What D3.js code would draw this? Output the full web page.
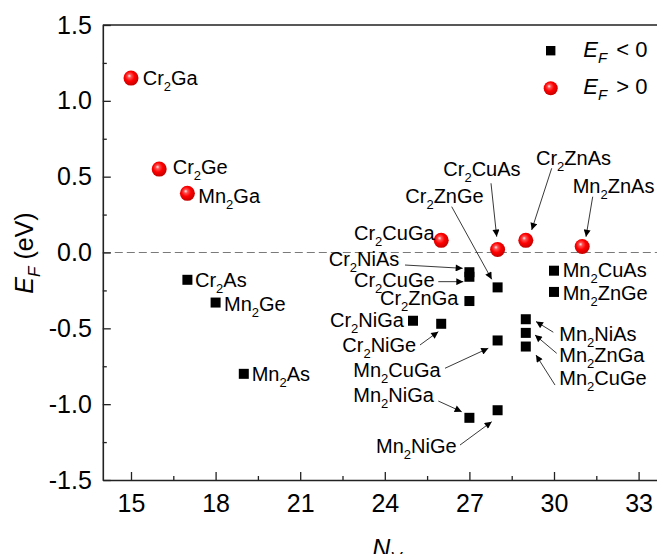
<!DOCTYPE html>
<meta charset="utf-8">
<script src="https://d3js.org/d3.v7.min.js"></script>
<style>
  body { margin: 0; background: #fff; }
  svg { display: block; overflow: hidden; }
  text { font-family: "Liberation Sans", Arial, sans-serif; fill: #000; }
</style>
<div id="my_dataviz"></div>
<script>

// compounds with E_F < 0 (black squares)
const negNames = ["Cr2As", "Mn2Ge", "Mn2As", "Cr2NiGa", "Cr2NiGe", "Cr2NiAs", "Cr2CuGe", "Cr2ZnGa",
                  "Mn2NiGa", "Cr2ZnGe", "Mn2CuGa", "Mn2NiGe", "Mn2NiAs", "Mn2ZnGa", "Mn2CuGe",
                  "Mn2CuAs", "Mn2ZnGe"];
const negNv = [17, 18, 19, 25, 26, 27, 27, 27, 27, 28, 28, 28, 29, 29, 29, 30, 30];
const negEf = [-0.18, -0.33, -0.80, -0.45, -0.47, -0.13, -0.16, -0.32, -1.09, -0.23, -0.58, -1.04,
               -0.44, -0.53, -0.62, -0.12, -0.26];

// compounds with E_F > 0 (red balls)
const posNames = ["Cr2Ga", "Cr2Ge", "Mn2Ga", "Cr2CuGa", "Cr2CuAs", "Cr2ZnAs", "Mn2ZnAs"];
const posNv = [15, 16, 17, 26, 28, 29, 31];
const posEf = [1.15, 0.55, 0.39, 0.08, 0.02, 0.08, 0.04];

// axis ticks
const xTicks = [15, 18, 21, 24, 27, 30, 33];
const xMinorTicks = [16.5, 19.5, 22.5, 25.5, 28.5, 31.5];
const yTicks = [-1.5, -1.0, -0.5, 0.0, 0.5, 1.0, 1.5];
const yTickLabels = ["-1.5", "-1.0", "-0.5", "0.0", "0.5", "1.0", "1.5"];
const yMinorTicks = [-1.25, -0.75, -0.25, 0.25, 0.75, 1.25];

// label placement: offset of the text from its marker, optional arrow (tail dx,dy, head dx,dy)
const labelPos = {
  "Cr2Ga":   {dx: 11.7, dy: 6.9},
  "Cr2Ge":   {dx: 13.5, dy: 4.9},
  "Mn2Ga":   {dx: 10.9, dy: 9.3},
  "Cr2As":   {dx: 7.6, dy: 6.9},
  "Mn2Ge":   {dx: 8.4, dy: 8.2},
  "Mn2As":   {dx: 7.9, dy: 6.9},
  "Mn2CuAs": {dx: 8.7, dy: 6.6},
  "Mn2ZnGe": {dx: 8.7, dy: 8.1},
  "Cr2NiGa": {dx: -83, dy: 5.8},
  "Cr2ZnGa": {dx: -89.4, dy: 4},
  "Cr2CuGa": {dx: -87.2, dy: -0.4},
  "Cr2NiAs": {dx: -140.7, dy: -6.2, arrow: [-64.4, -7.2, -6.7, -3.9]},
  "Cr2CuGe": {dx: -115.4, dy: 9.9, arrow: [-31.1, 4.9, -6.1, 4.9]},
  "Cr2ZnGe": {dx: -92.3, dy: -84.1, arrow: [-45.9, -80.7, -5.9, -8.1]},
  "Cr2CuAs": {dx: -54.3, dy: -73.5, arrow: [-6.6, -66.2, -0.9, -12.8]},
  "Cr2ZnAs": {dx: 10.2, dy: -75.4, arrow: [25.9, -72.1, 5.9, -10.4]},
  "Mn2ZnAs": {dx: -9.5, dy: -53.1, arrow: [10.5, -49.7, 3.8, -9.7]},
  "Cr2NiGe": {dx: -98.9, dy: 28.5, arrow: [-21.2, 21.2, -2.9, 7.9]},
  "Mn2CuGa": {dx: -144.3, dy: 36.8, arrow: [-52.6, 27.8, -9.3, 7.8]},
  "Mn2NiGa": {dx: -116.1, dy: -15.5, arrow: [-31.1, -16.8, -7.7, -6.1]},
  "Mn2NiGe": {dx: -121.6, dy: 43.1, arrow: [-37.6, 34.8, -5.9, 11.5]},
  "Mn2NiAs": {dx: 33.5, dy: 21.6, arrow: [27.5, 13, 10.2, 2.3]},
  "Mn2ZnGa": {dx: 33.5, dy: 28.8, arrow: [30.9, 20.4, 9.2, 2.1]},
  "Mn2CuGe": {dx: 33.5, dy: 38.5, arrow: [29.2, 38.5, 10.2, 8.5]}
};

const W = 657, H = 554;
const margin = {top: 25, left: 102.8};
const width = 564, height = 455;

const svg = d3.select("#my_dataviz")
  .append("svg")
    .attr("width", W)
    .attr("height", H);

// red ball gradient and arrow head
const defs = svg.append("defs");
const grad = defs.append("radialGradient")
    .attr("id", "ball")
    .attr("cx", "45%").attr("cy", "42%").attr("r", "58%")
    .attr("fx", "38%").attr("fy", "35%");
grad.append("stop").attr("offset", "0%").attr("stop-color", "#fff2f2");
grad.append("stop").attr("offset", "22%").attr("stop-color", "#ff5050");
grad.append("stop").attr("offset", "55%").attr("stop-color", "#ff0000");
grad.append("stop").attr("offset", "100%").attr("stop-color", "#c40000");

defs.append("marker")
    .attr("id", "head")
    .attr("markerUnits", "userSpaceOnUse")
    .attr("viewBox", "0 0 10 10")
    .attr("refX", 10).attr("refY", 5)
    .attr("markerWidth", 9).attr("markerHeight", 7)
    .attr("orient", "auto")
  .append("path")
    .attr("d", "M0,0 L10,5 L0,10 Z")
    .attr("fill", "#000");

const g = svg.append("g")
    .attr("transform", `translate(${margin.left}, ${margin.top})`);

const x = d3.scaleLinear().domain([14, 34]).range([0, width]);
const y = d3.scaleLinear().domain([-1.5, 1.5]).range([height, 0]);

// frame (top + right lines)
g.append("path")
    .attr("d", `M0,0 H${width} V${height}`)
    .attr("fill", "none")
    .attr("stroke", "#222")
    .attr("stroke-width", 1.6);

// dashed zero line
g.append("line")
    .attr("x1", 0).attr("x2", width)
    .attr("y1", y(0)).attr("y2", y(0))
    .attr("stroke", "#7a7a7a")
    .attr("stroke-width", 1)
    .attr("stroke-dasharray", "8,4");

// X axis
const xAxis = g.append("g")
    .attr("transform", `translate(0, ${height})`)
    .call(d3.axisBottom(x).tickValues(xTicks).tickSize(-8).tickSizeOuter(0).tickPadding(14)
      .tickFormat(d3.format("d")));
g.append("g")
    .attr("transform", `translate(0, ${height})`)
    .call(d3.axisBottom(x).tickValues(xMinorTicks).tickSize(-4).tickSizeOuter(0).tickFormat(""))
    .select(".domain").remove();

// Y axis
const yAxis = g.append("g")
    .call(d3.axisLeft(y).tickValues(yTicks).tickSize(-8).tickSizeOuter(0).tickPadding(11)
      .tickFormat((d, i) => yTickLabels[i]));
g.append("g")
    .call(d3.axisLeft(y).tickValues(yMinorTicks).tickSize(-4).tickSizeOuter(0).tickFormat(""))
    .select(".domain").remove();

g.selectAll(".domain").attr("stroke", "#222").attr("stroke-width", 1.6);
g.selectAll(".tick line").attr("stroke", "#222").attr("stroke-width", 1.3);
g.selectAll(".tick text")
    .style("font-family", "'Liberation Sans', Arial, sans-serif")
    .style("font-size", "25px")
    .attr("fill", "#000");

// writes a formula like Cr2CuGa with subscript digits
function formula(textSel, name, size, sub, shift) {
  const parts = name.match(/[A-Za-z]+|\d+/g);
  let down = false;
  parts.forEach(p => {
    const isNum = /\d/.test(p);
    const t = textSel.append("tspan").text(p);
    if (isNum) {
      t.style("font-size", sub + "px").attr("dy", shift);
      down = true;
    } else {
      t.style("font-size", size + "px");
      if (down) { t.attr("dy", -shift); down = false; }
    }
  });
}

// arrows
const allPoints = negNames.map((n, i) => ({name: n, nv: negNv[i], ef: negEf[i]}))
  .concat(posNames.map((n, i) => ({name: n, nv: posNv[i], ef: posEf[i]})));

g.append("g").selectAll("line")
  .data(allPoints.filter(d => labelPos[d.name].arrow))
  .join("line")
    .attr("x1", d => x(d.nv) + labelPos[d.name].arrow[0])
    .attr("y1", d => y(d.ef) + labelPos[d.name].arrow[1])
    .attr("x2", d => x(d.nv) + labelPos[d.name].arrow[2])
    .attr("y2", d => y(d.ef) + labelPos[d.name].arrow[3])
    .attr("stroke", "#222")
    .attr("stroke-width", 0.9)
    .attr("marker-end", "url(#head)");

// squares
const sq = 10;
g.append("g").selectAll("rect")
  .data(negNames.map((n, i) => ({name: n, nv: negNv[i], ef: negEf[i]})))
  .join("rect")
    .attr("x", d => x(d.nv) - sq / 2)
    .attr("y", d => y(d.ef) - sq / 2)
    .attr("width", sq)
    .attr("height", sq)
    .attr("fill", "#000");

// balls
g.append("g").selectAll("circle")
  .data(posNames.map((n, i) => ({name: n, nv: posNv[i], ef: posEf[i]})))
  .join("circle")
    .attr("cx", d => x(d.nv))
    .attr("cy", d => y(d.ef))
    .attr("r", 7.5)
    .attr("fill", "url(#ball)");

// labels
allPoints.forEach(d => {
  const lp = labelPos[d.name];
  const t = g.append("text")
      .attr("x", x(d.nv) + lp.dx)
      .attr("y", y(d.ef) + lp.dy);
  formula(t, d.name, 20, 13, 6);
});

// legend
const leg = svg.append("g");
leg.append("rect")
    .attr("x", 550.7 - 4.7).attr("y", 50.7 - 4.7)
    .attr("width", 9.4).attr("height", 9.4)
    .attr("fill", "#000");
leg.append("circle")
    .attr("cx", 550.7).attr("cy", 88.3).attr("r", 7)
    .attr("fill", "url(#ball)");
[["< 0", 56.7], ["> 0", 94]].forEach(([s, yy]) => {
  const t = leg.append("text").attr("x", 583.3).attr("y", yy).style("font-size", "22px");
  t.append("tspan").text("E").style("font-style", "italic");
  t.append("tspan").text("F").style("font-style", "italic").style("font-size", "15px").attr("dy", 6);
  t.append("tspan").text(" " + s).attr("dy", -6).attr("dx", 3);
});

// axis titles
const yt = svg.append("text")
    .attr("transform", "translate(33, 253) rotate(-90)")
    .attr("text-anchor", "middle")
    .style("font-size", "25px");
yt.append("tspan").text("E").style("font-style", "italic");
yt.append("tspan").text("F").style("font-style", "italic").style("font-size", "17px").attr("dy", 7);
yt.append("tspan").text(" (eV)").attr("dy", -7);

const xt = svg.append("text")
    .attr("x", 387)
    .attr("y", 557)
    .attr("text-anchor", "middle")
    .style("font-size", "25px");
xt.append("tspan").text("N").style("font-style", "italic");
xt.append("tspan").text("V").style("font-style", "italic").style("font-size", "17px").attr("dy", 7);

</script>
